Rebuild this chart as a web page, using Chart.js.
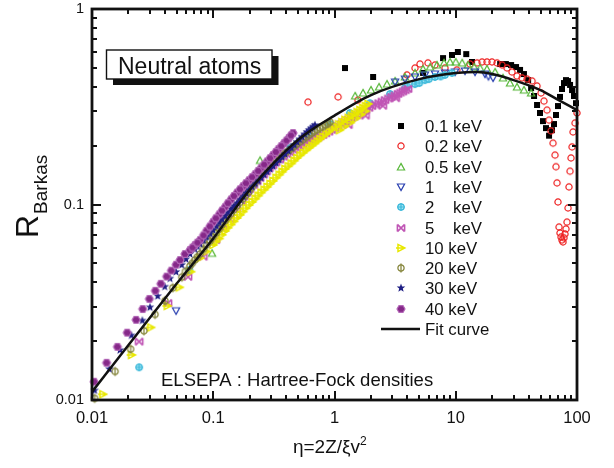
<!DOCTYPE html>
<html>
<head>
<meta charset="utf-8">
<script src="https://cdn.jsdelivr.net/npm/chart.js@4.4.0/dist/chart.umd.min.js"></script>
<style>
  html, body { margin: 0; padding: 0; background: #fff; }
</style>
</head>
<body>
<canvas id="chart" width="614" height="468"></canvas>
<script>
// values: [eta, R_Barkas]
var kev01 = [[1.22,0.499],[2.08,0.449],[5.37,0.471],[7.85,0.561],[9.31,0.582],[10.4,0.603],[12.2,0.588],[13.6,0.536],
  [23.2,0.523],[25.9,0.523],[28.6,0.517],[31.4,0.505],[33.9,0.488],[36.5,0.465],[39.5,0.433],[41.8,0.394],[44.2,0.359],
  [46.8,0.323],[49.5,0.294],[52.4,0.267],[55.5,0.246],[58.8,0.225],[62.2,0.240],[64.6,0.258],[67.1,0.287],[69.7,0.319],
  [72.4,0.355],[75.2,0.390],[78.1,0.418],[81.1,0.433],[84.3,0.428],[87.6,0.409],[91.0,0.385],[94.4,0.359],[98.1,0.330]];
var kev02 = [[0.604,0.334],[1.07,0.355],[1.56,0.342],[3.96,0.460],[4.61,0.499],[5.07,0.523],[5.90,0.530],[6.74,0.517],
  [8.15,0.499],[10.2,0.488],[13.1,0.523],[15.0,0.530],[16.5,0.536],[18.1,0.536],[19.9,0.536],[21.9,0.530],[24.1,0.517],
  [26.5,0.499],[29.1,0.476],[32.0,0.454],[35.2,0.444],[38.7,0.438],[42.6,0.428],[46.8,0.404],[50.5,0.372],[53.4,0.338],
  [56.6,0.304],[58.8,0.270],[61.1,0.238],[63.4,0.206],[65.9,0.179],[67.1,0.156],[68.4,0.129],[69.7,0.103],[71.1,0.0767],
  [72.4,0.0715],[73.8,0.0682],[75.2,0.0658],[76.6,0.0643],[78.1,0.0675],[79.6,0.0707],[81.1,0.0750],[82.7,0.0813],
  [84.3,0.0960],[85.9,0.123],[87.6,0.148],[89.3,0.173],[91.0,0.197],[92.7,0.235],[96.3,0.261],[100,0.294]];
var kev05 = [[0.0977,0.0563],[0.243,0.168],[1.48,0.359],[1.72,0.372],[2.00,0.385],[2.33,0.399],[2.71,0.413],[3.16,0.428],
  [3.81,0.449],[4.61,0.471],[5.37,0.493],[6.14,0.505],[7.0,0.517],[8.0,0.530],[8.97,0.536],[10.0,0.536],[11.3,0.530],
  [12.6,0.517],[14.2,0.505],[15.9,0.499],[18.1,0.493],[21.1,0.476],[24.5,0.444],[28.0,0.418],[32.0,0.399],[36.5,0.385],
  [41.8,0.372]];
var kev1 = [[0.0493,0.0286],[3.16,0.423],[3.81,0.438],[4.61,0.449],[5.57,0.460],[6.74,0.465],[8.15,0.471],[9.86,0.476],
  [11.9,0.482],[14.4,0.476],[17.4,0.465],[18.6,0.452],[20.3,0.444]];
var kev2 = [[0.0245,0.0147],[0.0634,0.0462],[0.43,0.195],[0.63,0.224],[0.92,0.258],[1.34,0.294],[1.96,0.330],[2.87,0.368],
  [3.81,0.394],[4.0,0.402],[4.61,0.413],[5.0,0.418],[5.57,0.433],[6.0,0.438],[6.74,0.449],[7.5,0.452],[8.15,0.460],[9.31,0.471]];
var kev5 = [[0.0245,0.0199],[0.0423,0.0313],[0.0619,0.0427],[0.0828,0.0541],[0.105,0.0658],[0.120,0.075],[0.138,0.084],
  [0.156,0.094],[0.172,0.104],[0.190,0.115],[0.215,0.126],[0.243,0.137],[0.275,0.148],[0.311,0.159],[0.355,0.170],
  [0.405,0.181],[0.46,0.190],[0.519,0.199],[0.585,0.207],[0.652,0.214],[0.725,0.220],[0.803,0.227],[0.90,0.236],
  [1.01,0.246],[1.14,0.258],[1.29,0.271],[1.3,0.255],[1.45,0.282],[1.62,0.294],[1.8,0.285],[1.82,0.306],[2.04,0.319],
  [2.31,0.330],[2.5,0.32],[2.61,0.342],[2.95,0.355],[3.2,0.35],[3.34,0.368],[3.67,0.379],[4.04,0.390],
  [0.18,0.11],[0.2,0.12],[0.23,0.1315],[0.26,0.1425],[0.29,0.1535],[0.33,0.1645],[0.38,0.1755],[0.43,0.1855],
  [0.49,0.1945],[0.55,0.203],[0.62,0.2105],[0.69,0.217],[0.76,0.2235],[0.85,0.2315],[0.95,0.241],[1.07,0.252],
  [1.21,0.2645],[1.37,0.2765],[1.53,0.288],[1.72,0.300],[1.93,0.3125],[2.17,0.3245],[2.46,0.336],[2.78,0.3485],
  [3.14,0.3615],[3.5,0.3735],[3.85,0.3845]];
var kev10 = [[0.0123,0.0107],[0.0212,0.0170],[0.0305,0.0235],[0.0418,0.0303],[0.0525,0.0377],[0.0652,0.0453],[0.0778,0.0532],
  [0.088,0.0575],[0.0996,0.0621],[0.112,0.067],[0.125,0.0732],[0.140,0.079],[0.157,0.0853],[0.176,0.092],[0.197,0.0994],
  [0.222,0.107],[0.248,0.115],[0.278,0.123],[0.311,0.132],[0.350,0.142],[0.390,0.152],[0.440,0.162],[0.490,0.173],
  [0.55,0.184],[0.617,0.195],[0.685,0.205],[0.758,0.216],[0.85,0.229],[0.95,0.243],[1.08,0.257],[1.2,0.25],[1.22,0.271],
  [1.38,0.284],[1.5,0.275],[1.54,0.297],[1.71,0.312],[1.8,0.30],[1.89,0.327],
  [0.105,0.0645],[0.118,0.070],[0.132,0.076],[0.148,0.082],[0.166,0.0885],[0.186,0.0957],[0.209,0.103],[0.235,0.111],
  [0.263,0.119],[0.294,0.1275],[0.33,0.137],[0.37,0.147],[0.415,0.157],[0.465,0.1675],[0.52,0.1785],[0.585,0.1895],
  [0.65,0.200],[0.72,0.2105],[0.80,0.2225],[0.90,0.236],[1.01,0.25],[1.15,0.264],[1.3,0.2775],[1.46,0.2905],
  [1.62,0.3045],[1.8,0.3195],[1.1,0.24],[1.35,0.262],[1.65,0.288]];
var kev20 = [[0.0105,0.0102],[0.0155,0.0140],[0.0208,0.0182],[0.0268,0.0226],[0.0331,0.0274],[0.040,0.0322],[0.0463,0.0375],
  [0.055,0.0425],[0.0643,0.0485],[0.0705,0.052],[0.0778,0.0558],[0.088,0.062],[0.0996,0.0682],[0.112,0.075],[0.125,0.0824],
  [0.140,0.090],[0.157,0.0983],[0.176,0.107],[0.197,0.116],[0.222,0.129],[0.248,0.143],[0.278,0.153],[0.311,0.163],
  [0.350,0.173],[0.390,0.183],[0.440,0.193],[0.490,0.204],[0.55,0.215],[0.617,0.227],[0.685,0.237],[0.758,0.246],
  [0.84,0.255],[0.92,0.264],
  [0.059,0.0455],[0.067,0.050],[0.074,0.054],[0.083,0.059],[0.094,0.065],[0.106,0.0715],[0.118,0.0787],[0.132,0.086],
  [0.148,0.094],[0.166,0.1025],[0.186,0.1115],[0.209,0.1225],[0.235,0.136],[0.263,0.148],[0.294,0.158],[0.33,0.168],
  [0.37,0.178],[0.415,0.188],[0.465,0.1985],[0.52,0.2095],[0.585,0.221],[0.65,0.232],[0.72,0.2415],[0.80,0.2505],
  [0.88,0.2595]];
var kev30 = [[0.0105,0.0112],[0.0139,0.0144],[0.0170,0.0180],[0.0211,0.0214],[0.0260,0.0255],[0.0301,0.0298],[0.0348,0.0340],
  [0.0398,0.0380],[0.0440,0.0418],[0.0493,0.0452],[0.0549,0.0491],[0.0596,0.0525],[0.0643,0.0558],[0.0705,0.059],
  [0.0778,0.0628],[0.088,0.068],[0.0996,0.0741],[0.112,0.081],[0.125,0.0873],[0.140,0.095],[0.157,0.102],[0.176,0.110],
  [0.197,0.119],[0.222,0.128],[0.248,0.137],[0.278,0.147],[0.311,0.157],[0.350,0.169],[0.390,0.181],[0.440,0.195],
  [0.490,0.209],[0.540,0.222],[0.592,0.235],[0.640,0.245],[0.69,0.255],
  [0.074,0.061],[0.083,0.0654],[0.094,0.071],[0.106,0.0775],[0.118,0.084],[0.132,0.091],[0.148,0.0985],[0.166,0.106],
  [0.186,0.1145],[0.209,0.1235],[0.235,0.1325],[0.263,0.142],[0.294,0.152],[0.33,0.163],[0.37,0.175],[0.415,0.188],
  [0.465,0.202],[0.515,0.2155],[0.566,0.2285],[0.615,0.240],[0.665,0.250]];
var kev40 = [[0.0104,0.0124],[0.0132,0.0155],[0.0162,0.0187],[0.0195,0.0221],[0.0231,0.0257],[0.0262,0.0292],[0.0297,0.0329],
  [0.0333,0.0362],[0.0369,0.0393],[0.0413,0.0428],[0.0451,0.0459],[0.0493,0.0492],[0.0532,0.052],[0.0584,0.0558],
  [0.0643,0.0585],[0.0706,0.0620],[0.0778,0.0658],[0.0880,0.0733],[0.0996,0.0813],[0.112,0.089],[0.125,0.097],
  [0.140,0.106],[0.157,0.115],[0.176,0.124],[0.197,0.133],[0.222,0.143],[0.248,0.154],[0.278,0.166],[0.311,0.179],
  [0.345,0.192],[0.384,0.206],[0.420,0.219],[0.455,0.232],
  [0.0674,0.0602],[0.074,0.0638],[0.083,0.0695],[0.0937,0.0772],[0.105,0.085],[0.118,0.093],[0.132,0.1015],
  [0.148,0.1105],[0.166,0.1195],[0.186,0.1285],[0.209,0.138],[0.235,0.1485],[0.263,0.160],[0.294,0.1725],
  [0.328,0.1855],[0.364,0.199],[0.402,0.2125],[0.437,0.2255]];
var fitCurve = [[0.01,0.011],[0.02,0.0191],[0.05,0.0394],[0.1,0.067],[0.2,0.119],[0.5,0.214],[1,0.285],[2,0.363],
  [5,0.438],[10,0.47],[15,0.476],[20,0.465],[30,0.433],[50,0.385],[70,0.343],[100,0.304]];

var seriesLabels = ['0.1', '0.2', '0.5', '1', '2', '5', '10', '20', '30', '40'];
var xTickLabels = ['0.01', '0.1', '1', '10', '100'];
var yTickLabels = ['0.01', '0.1', '1'];

var FONT = '"Liberation Sans", Arial, sans-serif';

function marker(draw) {
  var c = document.createElement('canvas');
  c.width = 12; c.height = 12;
  var g = c.getContext('2d');
  g.translate(6, 6);
  g.lineWidth = 1.2;
  draw(g);
  return c;
}

var markers = [
  marker(function (g) { g.fillStyle = '#000'; g.fillRect(-3, -3, 6, 6); }),
  marker(function (g) { g.strokeStyle = '#ee2020'; g.beginPath(); g.arc(0, 0, 3.1, 0, 2 * Math.PI); g.stroke(); }),
  marker(function (g) {
    g.strokeStyle = '#58b83a'; g.beginPath();
    g.moveTo(0, -3.6); g.lineTo(3.6, 3); g.lineTo(-3.6, 3); g.closePath(); g.stroke();
  }),
  marker(function (g) {
    g.strokeStyle = '#2a40b0'; g.beginPath();
    g.moveTo(0, 3.6); g.lineTo(3.6, -3); g.lineTo(-3.6, -3); g.closePath(); g.stroke();
  }),
  marker(function (g) {
    g.fillStyle = '#a8e6f4'; g.strokeStyle = '#3ab8da';
    g.beginPath(); g.arc(0, 0, 3.2, 0, 2 * Math.PI); g.fill(); g.stroke();
    g.beginPath(); g.moveTo(-4, 0); g.lineTo(4, 0); g.moveTo(0, -4); g.lineTo(0, 4); g.stroke();
  }),
  marker(function (g) {
    g.strokeStyle = '#c055b5'; g.lineWidth = 1.6; g.beginPath();
    g.moveTo(-3.6, -3.6); g.lineTo(3.6, 3.6); g.moveTo(3.6, -3.6); g.lineTo(-3.6, 3.6);
    g.moveTo(-3.6, -3.6); g.lineTo(-3.6, 3.6); g.moveTo(3.6, -3.6); g.lineTo(3.6, 3.6); g.stroke();
  }),
  marker(function (g) {
    g.strokeStyle = '#e8e800'; g.lineWidth = 1.5; g.beginPath();
    g.moveTo(3.8, 0); g.lineTo(-3, -3.6); g.lineTo(-3, 3.6); g.closePath();
    g.moveTo(-5, 0); g.lineTo(3.8, 0); g.stroke();
  }),
  marker(function (g) {
    g.strokeStyle = '#86863c'; g.lineWidth = 1.3;
    g.beginPath(); g.arc(0, 0, 3.1, 0, 2 * Math.PI); g.stroke();
    g.beginPath(); g.moveTo(0, -4.5); g.lineTo(0, 4.5); g.stroke();
  }),
  marker(function (g) {
    g.fillStyle = '#1f1f84'; g.beginPath();
    for (var i = 0; i < 10; i++) {
      var r = i % 2 ? 1.9 : 4.5, a = -Math.PI / 2 + i * Math.PI / 5;
      g.lineTo(r * Math.cos(a), r * Math.sin(a));
    }
    g.closePath(); g.fill();
  }),
  marker(function (g) {
    g.fillStyle = '#852888'; g.strokeStyle = '#b468b8'; g.beginPath();
    for (var i = 0; i < 6; i++) {
      var a = i * Math.PI / 3;
      g.lineTo(4 * Math.cos(a), 4 * Math.sin(a));
    }
    g.closePath(); g.fill(); g.stroke();
  })
];

var series = [kev01, kev02, kev05, kev1, kev2, kev5, kev10, kev20, kev30, kev40];

function toPoints(arr) { return arr.map(function (p) { return { x: p[0], y: p[1] }; }); }

var datasets = series.map(function (s, i) {
  return {
    label: seriesLabels[i] + ' keV',
    data: toPoints(s),
    pointStyle: markers[i],
    pointRadius: 4,
    showLine: false,
    clip: false,
    order: 10 - i
  };
});
datasets.push({
  label: 'Fit curve',
  data: toPoints(fitCurve),
  showLine: true,
  borderColor: '#111',
  borderWidth: 2.5,
  pointRadius: 0,
  cubicInterpolationMode: 'monotone',
  order: 0
});

var decorations = {
  id: 'decorations',
  afterDraw: function (chart) {
    var ctx = chart.ctx, ca = chart.chartArea;
    var xs = chart.scales.x, ys = chart.scales.y;
    ctx.save();
    ctx.strokeStyle = '#111';
    ctx.fillStyle = '#111';

    // inward ticks on all four sides
    ctx.lineWidth = 2;
    ctx.beginPath();
    for (var e = -2; e <= 1; e++) {
      for (var m = 1; m <= 9; m++) {
        var v = m * Math.pow(10, e);
        var px = Math.round(xs.getPixelForValue(v));
        var len = m === 1 ? 9 : 5;
        if (m === 1 && e === -2) continue;
        ctx.moveTo(px, ca.bottom); ctx.lineTo(px, ca.bottom - len);
        ctx.moveTo(px, ca.top); ctx.lineTo(px, ca.top + len);
      }
    }
    for (e = -2; e <= -1; e++) {
      for (m = 1; m <= 9; m++) {
        v = m * Math.pow(10, e);
        var py = Math.round(ys.getPixelForValue(v));
        len = m === 1 ? 9 : 5;
        if (m === 1 && e === -2) continue;
        ctx.moveTo(ca.left, py); ctx.lineTo(ca.left + len, py);
        ctx.moveTo(ca.right, py); ctx.lineTo(ca.right - len, py);
      }
    }
    ctx.stroke();

    ctx.lineWidth = 2.8;
    ctx.strokeRect(ca.left, ca.top, ca.right - ca.left, ca.bottom - ca.top);

    // tick labels
    ctx.font = '16.5px ' + FONT;
    ctx.textAlign = 'center';
    ctx.textBaseline = 'middle';
    xTickLabels.forEach(function (t) {
      ctx.fillText(t, xs.getPixelForValue(parseFloat(t)), 418);
    });
    ctx.font = '14.5px ' + FONT;
    ctx.textAlign = 'right';
    yTickLabels.forEach(function (t) {
      ctx.fillText(t, ca.left - 8, ys.getPixelForValue(parseFloat(t)));
    });

    // axis titles
    ctx.textAlign = 'left';
    ctx.textBaseline = 'alphabetic';
    ctx.font = '19px ' + FONT;
    var xt = '\u03b7=2Z/\u03bev';
    var xw = ctx.measureText(xt).width;
    var x0 = 330 - (xw + 7) / 2;
    ctx.fillText(xt, x0, 453);
    ctx.font = '12px ' + FONT;
    ctx.fillText('2', x0 + xw, 445);

    ctx.save();
    ctx.rotate(-Math.PI / 2);
    ctx.font = '32px ' + FONT;
    ctx.fillText('R', -238, 38);
    var rw = ctx.measureText('R').width;
    ctx.font = '19px ' + FONT;
    ctx.fillText('Barkas', -238 + rw + 1, 47);
    ctx.restore();

    // "Neutral atoms" box with shadow
    ctx.fillStyle = '#111';
    ctx.fillRect(113, 56, 165.5, 29);
    ctx.fillStyle = '#fff';
    ctx.fillRect(106.5, 50, 165.5, 29);
    ctx.lineWidth = 1.4;
    ctx.strokeRect(106.5, 50, 165.5, 29);
    ctx.fillStyle = '#111';
    ctx.font = '23px ' + FONT;
    ctx.fillText('Neutral atoms', 118, 74);

    ctx.font = '18.5px ' + FONT;
    ctx.fillText('ELSEPA : Hartree-Fock densities', 161, 386);

    // legend
    ctx.font = '16.8px ' + FONT;
    var kx = 425 + ctx.measureText('0.1 ').width;
    for (var i = 0; i < seriesLabels.length; i++) {
      var cy = 126 + i * 20.3;
      ctx.drawImage(markers[i], 401 - 6, Math.round(cy) - 6);
      ctx.fillText(seriesLabels[i], 425, cy + 6);
      ctx.fillText('keV', seriesLabels[i].length > 1 && seriesLabels[i].indexOf('.') < 0 ? 425 + ctx.measureText(seriesLabels[i] + ' ').width : kx, cy + 6);
    }
    var fy = 126 + 10 * 20.3;
    ctx.lineWidth = 2.6;
    ctx.beginPath(); ctx.moveTo(381, fy); ctx.lineTo(420, fy); ctx.stroke();
    ctx.fillText('Fit curve', 425, fy + 6);
    ctx.restore();
  }
};

new Chart(document.getElementById('chart'), {
  type: 'scatter',
  data: { datasets: datasets },
  options: {
    responsive: false,
    animation: false,
    events: [],
    layout: { padding: { left: 92, top: 9, right: 37, bottom: 68 } },
    plugins: { legend: { display: false }, tooltip: { enabled: false } },
    scales: {
      x: { type: 'logarithmic', min: 0.01, max: 100, display: false },
      y: { type: 'logarithmic', min: 0.01, max: 1, display: false }
    }
  },
  plugins: [decorations]
});
</script>
</body>
</html>
